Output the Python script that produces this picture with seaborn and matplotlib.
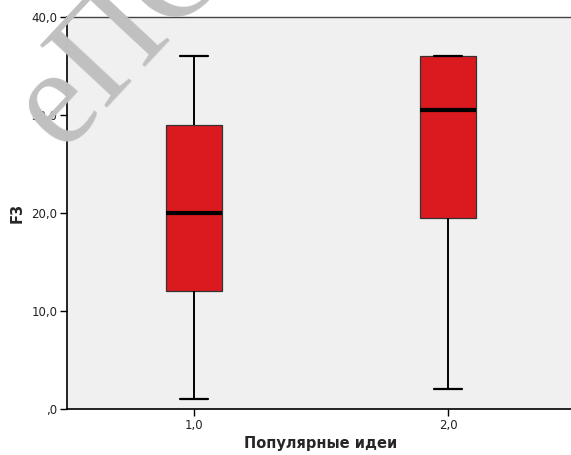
import matplotlib
matplotlib.use("Agg")
import matplotlib.pyplot as plt
import seaborn as sns
import pandas as pd

# Five-number summaries of F3 for each level of "Популярные идеи"
groups = ["1,0", "2,0"]
f3_group1 = [1.0, 12.0, 20.0, 29.0, 36.0]
f3_group2 = [2.0, 19.5, 30.5, 36.0, 36.0]

y_ticks = [0, 10, 20, 30, 40]
y_tick_labels = [",0", "10,0", "20,0", "30,0", "40,0"]

df = pd.DataFrame({
    "group": [groups[0]] * len(f3_group1) + [groups[1]] * len(f3_group2),
    "F3": f3_group1 + f3_group2,
})

sns.set_theme(style="ticks")
plt.rcParams["font.family"] = ["DejaVu Sans"]

fig = plt.figure(figsize=(5.71, 4.55), dpi=100)
ax = fig.add_axes([67 / 571, 46 / 455, 508 / 571, 392 / 455])
ax.set_facecolor("#f0f0f0")

sns.boxplot(
    data=df, x="group", y="F3", order=groups, ax=ax,
    color="#da1a1f", saturation=1, width=0.22, whis=1.5,
    linecolor="black", linewidth=1.0,
    medianprops={"color": "black", "linewidth": 3},
    whiskerprops={"color": "black", "linewidth": 1.4},
    capprops={"color": "black", "linewidth": 1.6},
    boxprops={"edgecolor": "#333333", "linewidth": 0.9},
)

ax.set_xlim(-0.5, 1.5)
ax.set_ylim(0, 40)
ax.set_yticks(y_ticks)
ax.set_yticklabels(y_tick_labels)
ax.tick_params(axis="both", direction="out", length=5, width=1, color="black",
               labelsize=8.5, labelcolor="#222222", pad=2)

for side in ["left", "bottom"]:
    ax.spines[side].set_color("black")
    ax.spines[side].set_linewidth(1.2)
ax.spines["top"].set_visible(True)
ax.spines["top"].set_color("#444444")
ax.spines["top"].set_linewidth(1.0)
ax.spines["right"].set_visible(False)

ax.set_xlabel("Популярные идеи", fontsize=10.5, fontweight="bold", labelpad=3)
ax.set_ylabel("F3", fontsize=10.5, fontweight="bold", labelpad=5)

# Publisher watermark
fig.text(0.108, 0.668, "еПС", family=["Liberation Serif", "DejaVu Serif"],
         fontsize=100, color="#c0c0c0", rotation=47, rotation_mode="anchor",
         ha="left", va="baseline", zorder=10)

fig.savefig("out.png", dpi=100)
